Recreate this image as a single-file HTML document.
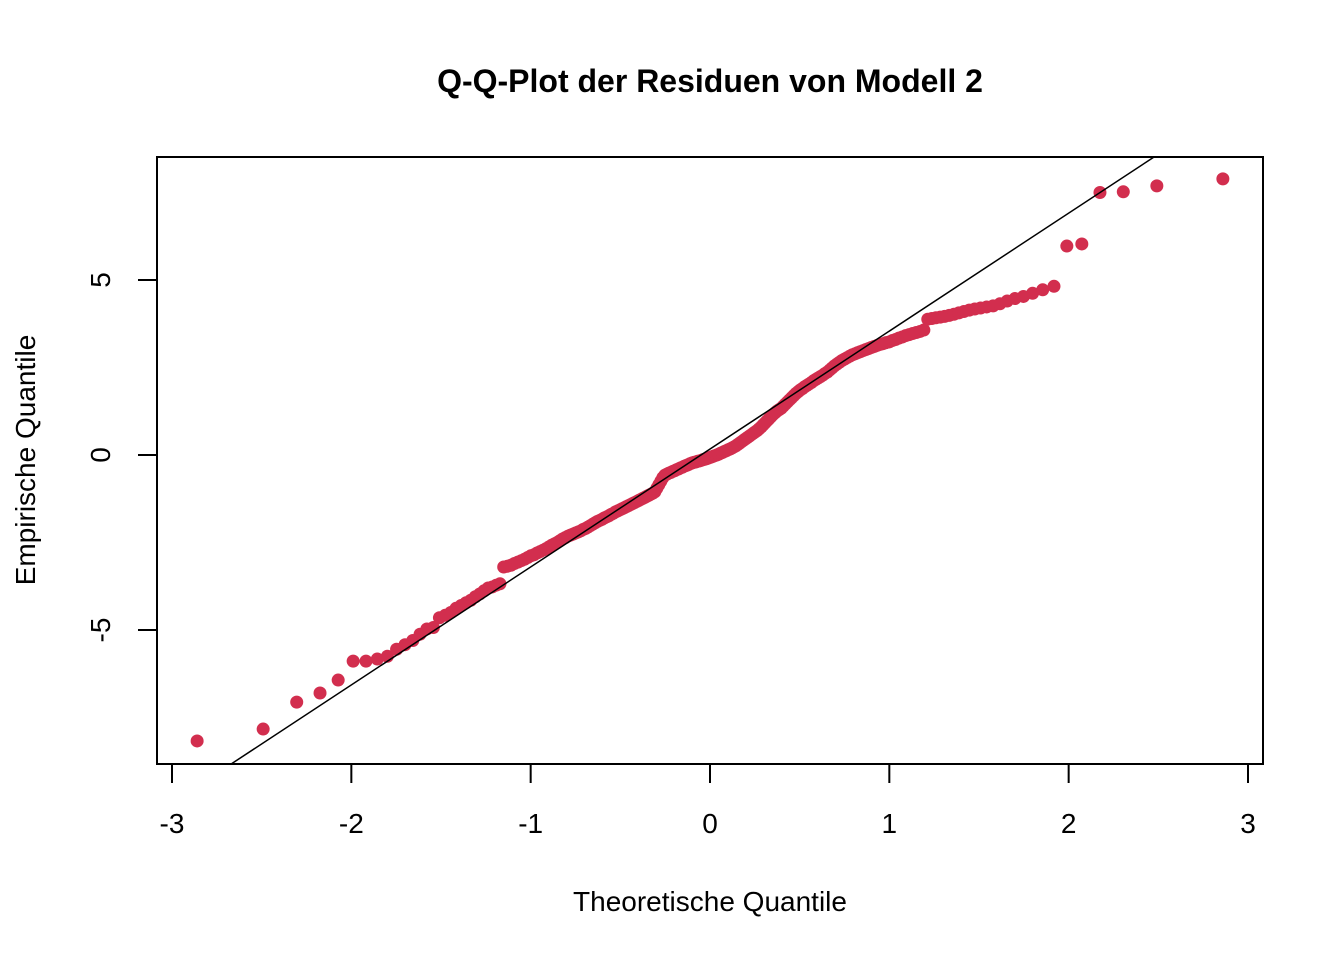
<!DOCTYPE html>
<html><head><meta charset="utf-8"><style>
html,body{margin:0;padding:0;background:#fff;}
svg text{font-family:"Liberation Sans",Arial,sans-serif;}
</style></head><body>
<svg id="chart" width="1344" height="960" xmlns="http://www.w3.org/2000/svg">
<text x="710" y="92" font-size="32" font-weight="bold" text-anchor="middle">Q-Q-Plot der Residuen von Modell 2</text>
<text x="710" y="911" font-size="28" text-anchor="middle">Theoretische Quantile</text>
<text x="0" y="0" font-size="28" text-anchor="middle" transform="translate(35,460) rotate(-90)">Empirische Quantile</text>
<g id="xaxis"></g>
<g id="yaxis"></g>
<defs><clipPath id="clip"><rect x="157" y="157" width="1106" height="607"/></clipPath></defs>
<g id="points"></g>
<line id="refline" stroke="#000" stroke-width="1.5" clip-path="url(#clip)"/>
<rect x="157" y="157" width="1106" height="607" fill="none" stroke="#000" stroke-width="2"/>
</svg>
<script>
const empirical=[-8.17,-7.83,-7.06,-6.80,-6.43,-5.89,-5.89,-5.83,-5.75,-5.55,-5.42,-5.30,-5.12,-4.97,-4.93,-4.65,-4.58,-4.50,-4.38,-4.30,-4.22,-4.15,-4.05,-3.97,-3.88,-3.80,-3.77,-3.72,-3.68,
-3.20,-3.18,-3.15,-3.10,-3.06,-3.02,-2.98,-2.93,-2.88,-2.85,-2.80,-2.76,-2.72,-2.68,-2.63,-2.58,-2.54,-2.50,-2.45,-2.40,-2.36,
-2.32,-2.29,-2.26,-2.23,-2.20,-2.17,-2.13,-2.10,-2.06,-2.02,-1.98,-1.94,-1.90,-1.87,-1.84,-1.80,-1.77,-1.74,-1.70,-1.67,-1.63,-1.60,-1.57,
-1.54,-1.51,-1.48,-1.45,-1.42,-1.39,-1.36,-1.33,-1.30,-1.27,-1.24,-1.21,-1.18,-1.15,-1.12,-1.09,-1.05,
-0.95,-0.85,-0.75,-0.65,-0.58,
-0.55,-0.52,-0.50,-0.47,-0.45,-0.42,-0.40,-0.37,-0.35,-0.32,-0.30,-0.28,-0.25,-0.23,
-0.21,-0.20,-0.18,-0.17,-0.15,-0.13,-0.12,-0.10,-0.08,
-0.06,-0.04,-0.02,0.00,0.02,0.05,0.07,0.10,0.12,0.15,0.17,0.20,0.23,0.26,
0.30,0.34,0.38,0.42,0.46,0.50,0.54,0.58,0.62,0.66,0.70,0.75,0.80,0.86,
0.92,0.98,1.04,1.10,1.16,1.21,1.26,1.30,1.34,
1.40,1.46,1.52,1.58,1.64,1.70,1.76,1.81,1.86,
1.90,1.95,1.99,2.03,2.07,2.12,2.16,2.20,2.24,2.28,2.33,2.37,
2.43,2.49,2.55,2.60,2.65,2.70,2.74,2.78,2.82,2.86,
2.89,2.92,2.95,2.98,3.01,3.04,3.07,3.10,3.13,3.16,3.18,3.21,3.23,
3.27,3.30,3.34,3.37,3.41,3.44,3.47,3.50,3.53,3.57,
3.88,3.90,3.92,3.94,3.96,3.99,4.02,4.06,4.10,4.14,4.17,4.20,4.23,4.26,4.32,4.40,4.47,4.53,4.62,4.72,4.82,
5.97,6.03,7.50,7.52,7.69,7.89];
const xTicks=[-3,-2,-1,0,1,2,3];
const yTicks=[-5,0,5];
const refIntercept=0.17;
const refSlope=3.37;

const NS="http://www.w3.org/2000/svg";
function sx(v){return 710+v*179.33;}
function sy(v){return 455-v*35;}
function qnorm(p){
  const a=[-39.6968302866538,220.946098424521,-275.928510446969,138.357751867269,-30.6647980661472,2.50662827745924];
  const b=[-54.4760987982241,161.585836858041,-155.698979859887,66.8013118877197,-13.2806815528857];
  const c=[-0.00778489400243029,-0.322396458041136,-2.40075827716184,-2.54973253934373,4.37466414146497,2.93816398269878];
  const d=[0.00778469570904146,0.32246712907004,2.445134137143,3.75440866190742];
  const pl=0.02425;let q,r;
  if(p<pl){q=Math.sqrt(-2*Math.log(p));return (((((c[0]*q+c[1])*q+c[2])*q+c[3])*q+c[4])*q+c[5])/((((d[0]*q+d[1])*q+d[2])*q+d[3])*q+1);}
  if(p>1-pl){q=Math.sqrt(-2*Math.log(1-p));return -(((((c[0]*q+c[1])*q+c[2])*q+c[3])*q+c[4])*q+c[5])/((((d[0]*q+d[1])*q+d[2])*q+d[3])*q+1);}
  q=p-0.5;r=q*q;return (((((a[0]*r+a[1])*r+a[2])*r+a[3])*r+a[4])*r+a[5])*q/(((((b[0]*r+b[1])*r+b[2])*r+b[3])*r+b[4])*r+1);
}
const xa=document.getElementById('xaxis');
xTicks.forEach(t=>{
  const l=document.createElementNS(NS,'line');
  
  
  l.setAttribute('x1',sx(t));l.setAttribute('x2',sx(t));l.setAttribute('y1',764);l.setAttribute('y2',783);
  l.setAttribute('stroke','#000');l.setAttribute('stroke-width','2');xa.appendChild(l);
  const tx=document.createElementNS(NS,'text');
  
  
  tx.setAttribute('x',sx(t));tx.setAttribute('y',833);tx.setAttribute('font-size','28');tx.setAttribute('text-anchor','middle');
  tx.textContent=String(t);xa.appendChild(tx);
});
const ya=document.getElementById('yaxis');
yTicks.forEach(t=>{
  const l=document.createElementNS(NS,'line');
  
  
  l.setAttribute('x1',138);l.setAttribute('x2',157);l.setAttribute('y1',sy(t));l.setAttribute('y2',sy(t));
  l.setAttribute('stroke','#000');l.setAttribute('stroke-width','2');ya.appendChild(l);
  const tx=document.createElementNS(NS,'text');
  
  
  tx.setAttribute('font-size','28');tx.setAttribute('text-anchor','middle');
  tx.setAttribute('transform','translate(110,'+sy(t)+') rotate(-90)');
  tx.textContent=String(t);ya.appendChild(tx);
});
const pg=document.getElementById('points');
const n=empirical.length;
empirical.forEach((v,i)=>{
  const c=document.createElementNS(NS,'circle');
  
  
  c.setAttribute('cx',sx(qnorm((i+0.5)/n)));c.setAttribute('cy',sy(v));c.setAttribute('r','6.5');
  c.setAttribute('fill','#D22E4E');pg.appendChild(c);
});
const rl=document.getElementById('refline');
rl.setAttribute('x1',sx(-4));rl.setAttribute('y1',sy(refIntercept+refSlope*-4));
rl.setAttribute('x2',sx(4));rl.setAttribute('y2',sy(refIntercept+refSlope*4));
</script>
</body></html>
